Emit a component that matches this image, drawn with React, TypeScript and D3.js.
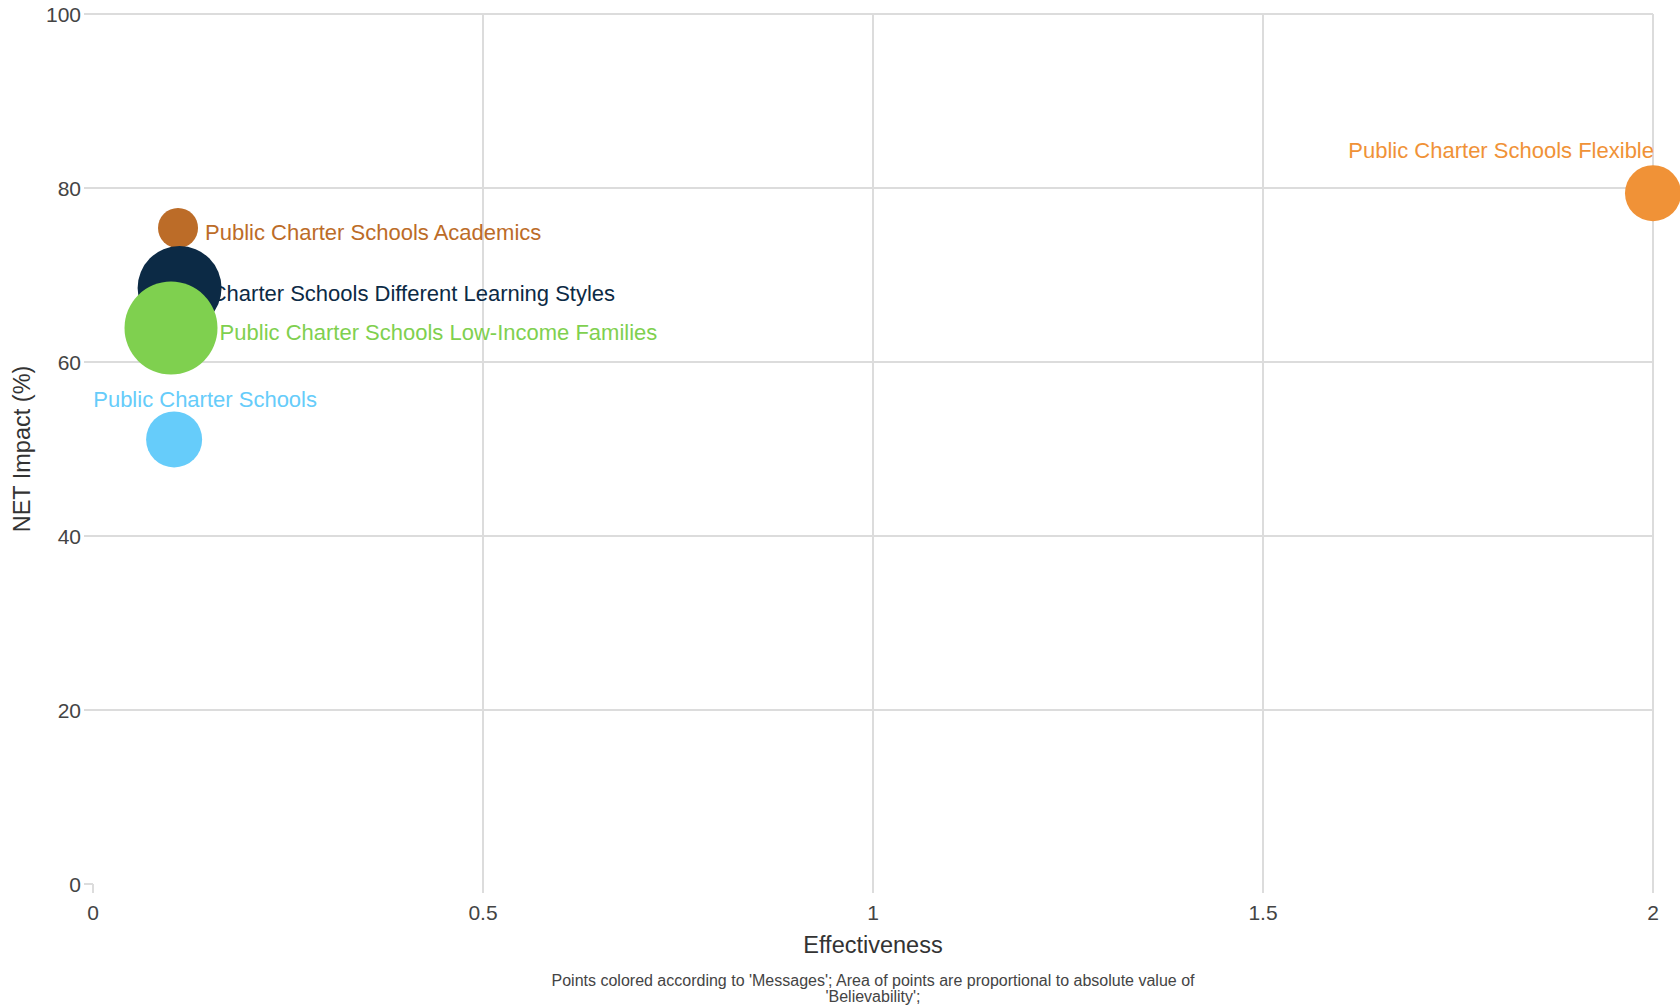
import React from "react";
import * as d3 from "d3";

const categories = [
  "Public Charter Schools Academics",
  "Public Charter Schools Different Learning Styles",
  "Public Charter Schools Low-Income Families",
  "Public Charter Schools",
  "Public Charter Schools Flexible",
];
const effectiveness = [0.109, 0.111, 0.1, 0.104, 2.0];
const netImpact = [75.4, 68.5, 63.9, 51.1, 79.4];
const believability = [10, 44, 54, 19.6, 19.6];
const xTicks = [0, 0.5, 1, 1.5, 2];
const yTicks = [0, 20, 40, 60, 80, 100];

const colors = ["#BC6C28", "#0C2A45", "#7FD04F", "#66CCFA", "#F09237"];
// label layout: offsets from point center
const labelLayout = [
  { dx: 27, dy: 4.5, anchor: "start" },
  { dx: 435.5, dy: 5, anchor: "end" },
  { dx: 48.6, dy: 4.7, anchor: "start" },
  { dx: 31, dy: -40, anchor: "middle" },
  { dx: 1, dy: -43, anchor: "end" },
];
const drawOrder = [0, 4, 3, 1, 2];

const W = 1680;
const H = 1008;
const left = 93;
const right = 1653;
const top = 14;
const bottom = 884;
const FONT = "'Liberation Sans', Arial, Helvetica, sans-serif";

export default function App() {
  const x = d3.scaleLinear().domain([0, 2]).range([left, right]);
  const y = d3.scaleLinear().domain([0, 100]).range([bottom, top]);
  const r = d3.scaleSqrt().domain([0, 54]).range([0, 46.5]);
  const gridColor = "#dcdcdc";
  const textColor = "#444";

  return (
    <svg
      width={W}
      height={H}
      style={{ position: "absolute", left: 0, top: 0, background: "#fff" }}
      fontFamily={FONT}
    >
      {/* horizontal gridlines */}
      {yTicks.map((t) =>
        t === 0 ? (
          <line key={"hy" + t} x1={84} x2={left} y1={y(t)} y2={y(t)} stroke={gridColor} strokeWidth={2} />
        ) : (
          <line key={"hy" + t} x1={84} x2={right} y1={y(t)} y2={y(t)} stroke={gridColor} strokeWidth={2} />
        )
      )}
      {/* vertical gridlines */}
      {xTicks.map((t) =>
        t === 0 ? (
          <line key={"vx" + t} x1={x(t)} x2={x(t)} y1={bottom} y2={bottom + 9} stroke={gridColor} strokeWidth={2} />
        ) : (
          <line key={"vx" + t} x1={x(t)} x2={x(t)} y1={top} y2={bottom + 9} stroke={gridColor} strokeWidth={2} />
        )
      )}
      {/* y tick labels */}
      {yTicks.map((t) => (
        <text key={"yl" + t} x={81} y={y(t)} textAnchor="end" dominantBaseline="central" fontSize={21} fill={textColor}>
          {t}
        </text>
      ))}
      {/* x tick labels */}
      {xTicks.map((t) => (
        <text key={"xl" + t} x={x(t)} y={912} textAnchor="middle" dominantBaseline="central" fontSize={21} fill={textColor}>
          {t}
        </text>
      ))}
      {/* axis titles */}
      <text x={(left + right) / 2} y={945} textAnchor="middle" dominantBaseline="central" fontSize={23.5} fill="#333">
        Effectiveness
      </text>
      <text
        transform={`translate(22,${(top + bottom) / 2}) rotate(-90)`}
        textAnchor="middle"
        dominantBaseline="central"
        fontSize={23.5}
        fill="#333"
      >
        NET Impact (%)
      </text>
      {/* labels */}
      {categories.map((c, i) => (
        <text
          key={"lab" + i}
          x={x(effectiveness[i]) + labelLayout[i].dx}
          y={y(netImpact[i]) + labelLayout[i].dy}
          textAnchor={labelLayout[i].anchor as any}
          dominantBaseline="central"
          fontSize={22}
          fill={colors[i]}
        >
          {c}
        </text>
      ))}
      {/* points */}
      {drawOrder.map((i) => (
        <circle
          key={"pt" + i}
          cx={x(effectiveness[i])}
          cy={y(netImpact[i])}
          r={r(believability[i])}
          fill={colors[i]}
        />
      ))}
      {/* footnote */}
      <text x={(left + right) / 2} y={980} textAnchor="middle" dominantBaseline="central" fontSize={16} fill={textColor}>
        Points colored according to 'Messages'; Area of points are proportional to absolute value of
      </text>
      <text x={(left + right) / 2} y={996.5} textAnchor="middle" dominantBaseline="central" fontSize={16} fill={textColor}>
        'Believability';
      </text>
    </svg>
  );
}
